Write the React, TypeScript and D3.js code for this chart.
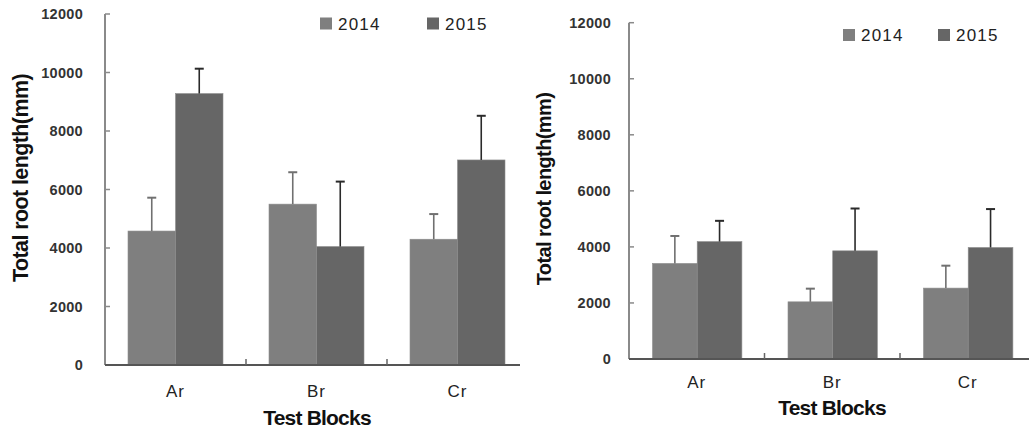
import React from "react";
import * as d3 from "d3";

const blocks = ["Ar", "Br", "Cr"];
const years = ["2014", "2015"];
const yTicks = [0, 2000, 4000, 6000, 8000, 10000, 12000];

// left panel
const leftMean2014 = [4580, 5500, 4300];
const leftMean2015 = [9280, 4050, 7010];
const leftErr2014 = [1140, 1090, 860];
const leftErr2015 = [850, 2220, 1510];

// right panel
const rightMean2014 = [3410, 2040, 2530];
const rightMean2015 = [4190, 3860, 3980];
const rightErr2014 = [980, 470, 800];
const rightErr2015 = [740, 1510, 1370];

const barColors = ["#7f7f7f", "#666666"];
const errColors = ["#707070", "#2a2a2a"];

type PanelProps = {
  means: number[][];
  errs: number[][];
  x0: number;
  step: number;
  xEnd: number;
  yTop: number;
  yBottom: number;
  barInset: number;
  barW: number;
  tickLabelX: number;
  titleX: number;
  titleY: number;
  titleSize: number;
  catBase: number;
  xTitleX: number;
  xTitleBase: number;
  legendX: number[];
  legendY: number;
  legendSq: number;
};

function Panel(p: PanelProps) {
  const x = d3
    .scaleBand<string>()
    .domain(blocks)
    .range([p.x0, p.x0 + p.step * blocks.length])
    .padding(0);
  const xs = d3
    .scaleBand<string>()
    .domain(years)
    .range([p.barInset, p.barInset + p.barW * 2])
    .padding(0);
  const y = d3.scaleLinear().domain([0, 12000]).range([p.yBottom, p.yTop]);

  return (
    <g>
      {/* bars */}
      {years.map((yr, si) =>
        blocks.map((b, i) => {
          const v = p.means[si][i];
          const bx = (x(b) as number) + (xs(yr) as number);
          return (
            <rect
              key={yr + b}
              x={bx}
              y={y(v)}
              width={xs.bandwidth()}
              height={p.yBottom - y(v)}
              fill={barColors[si]}
              stroke="#8e8e8e"
              strokeWidth={0.6}
            />
          );
        })
      )}
      {/* error bars (upper only) */}
      {years.map((yr, si) =>
        blocks.map((b, i) => {
          const v = p.means[si][i];
          const e = p.errs[si][i];
          const cx = (x(b) as number) + (xs(yr) as number) + xs.bandwidth() / 2;
          return (
            <g key={"e" + yr + b} stroke={errColors[si]}>
              <line x1={cx} x2={cx} y1={y(v)} y2={y(v + e)} strokeWidth={1.6} />
              <line x1={cx - 4.5} x2={cx + 4.5} y1={y(v + e)} y2={y(v + e)} strokeWidth={2} />
            </g>
          );
        })
      )}
      {/* y axis */}
      <line x1={p.x0} x2={p.x0} y1={p.yTop} y2={p.yBottom} stroke="#8a8a8a" strokeWidth={2} />
      {yTicks.map((t) => (
        <g key={t}>
          <line x1={p.x0} x2={p.x0 + 5} y1={y(t)} y2={y(t)} stroke="#8a8a8a" strokeWidth={1.5} />
          <text
            x={p.tickLabelX}
            y={y(t)}
            dy="0.35em"
            textAnchor="end"
            fontSize={14.5}
            fontWeight="bold"
            fill="#333"
            style={{ letterSpacing: "0.3px" }}
          >
            {t}
          </text>
        </g>
      ))}
      {/* x axis */}
      <line x1={p.x0} x2={p.xEnd} y1={p.yBottom} y2={p.yBottom} stroke="#555" strokeWidth={2} />
      {blocks.slice(1).map((b) => (
        <line
          key={"t" + b}
          x1={x(b) as number}
          x2={x(b) as number}
          y1={p.yBottom - 6}
          y2={p.yBottom}
          stroke="#666"
          strokeWidth={1.5}
        />
      ))}
      {blocks.map((b) => (
        <text
          key={"l" + b}
          x={(x(b) as number) + x.bandwidth() / 2}
          y={p.catBase}
          textAnchor="middle"
          fontSize={17}
          fill="#222"
          style={{ letterSpacing: "1px" }}
        >
          {b}
        </text>
      ))}
      <text
        x={p.xTitleX}
        y={p.xTitleBase}
        textAnchor="middle"
        fontSize={21}
        fontWeight="bold"
        fill="#111"
        style={{ letterSpacing: "-0.8px" }}
      >
        Test Blocks
      </text>
      <text
        transform={`translate(${p.titleX},${p.titleY}) rotate(-90)`}
        textAnchor="middle"
        fontSize={p.titleSize}
        fontWeight="bold"
        fill="#111"
        style={{ letterSpacing: "-0.6px" }}
      >
        Total root length(mm)
      </text>
      {/* legend */}
      {years.map((yr, si) => (
        <g key={"lg" + yr}>
          <rect
            x={p.legendX[si]}
            y={p.legendY - p.legendSq / 2}
            width={p.legendSq}
            height={p.legendSq}
            fill={barColors[si]}
          />
          <text
            x={p.legendX[si] + p.legendSq + 6}
            y={p.legendY}
            dy="0.36em"
            fontSize={17}
            fill="#222"
            style={{ letterSpacing: "1.2px" }}
          >
            {yr}
          </text>
        </g>
      ))}
    </g>
  );
}

export default function App() {
  return (
    <svg
      width={1029}
      height={430}
      style={{ position: "absolute", left: 0, top: 0, background: "#fff" }}
      fontFamily="'Liberation Sans', Arial, sans-serif"
    >
      <Panel
        means={[leftMean2014, leftMean2015]}
        errs={[leftErr2014, leftErr2015]}
        x0={105}
        step={141}
        xEnd={520}
        yTop={14}
        yBottom={365}
        barInset={23}
        barW={47.5}
        tickLabelX={83}
        titleX={28}
        titleY={178}
        titleSize={21.5}
        catBase={397}
        xTitleX={317}
        xTitleBase={425}
        legendX={[320, 427]}
        legendY={23.5}
        legendSq={12}
      />
      <Panel
        means={[rightMean2014, rightMean2015]}
        errs={[rightErr2014, rightErr2015]}
        x0={629}
        step={135.5}
        xEnd={1029}
        yTop={22.7}
        yBottom={359}
        barInset={23.5}
        barW={44.7}
        tickLabelX={611}
        titleX={551}
        titleY={189}
        titleSize={20}
        catBase={388}
        xTitleX={832}
        xTitleBase={415}
        legendX={[843, 938]}
        legendY={35}
        legendSq={12}
      />
    </svg>
  );
}
